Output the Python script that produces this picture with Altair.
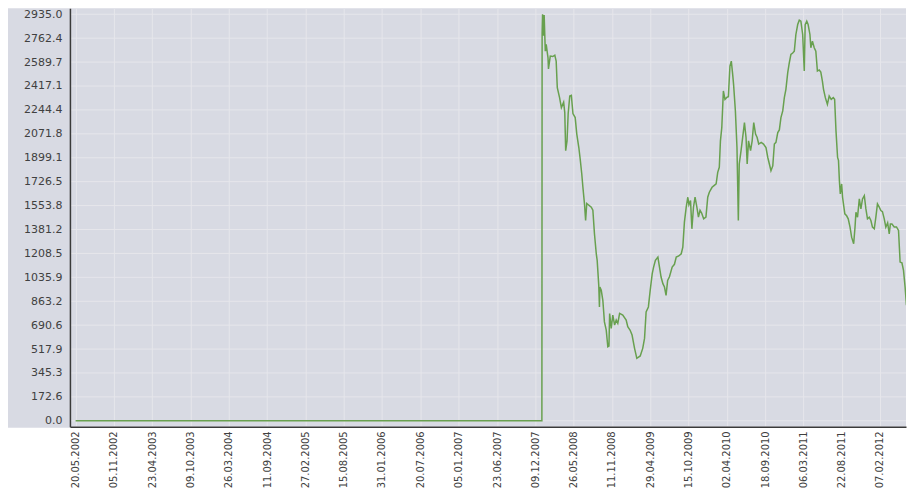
import altair as alt
import pandas as pd

# ---- data ----
dates = [
    "2002-05-20", "2008-01-07", "2008-01-08", "2008-01-10", "2008-01-14", "2008-01-17",
    "2008-01-22", "2008-01-26", "2008-02-03", "2008-02-05", "2008-02-13", "2008-02-24",
    "2008-03-04", "2008-03-10", "2008-03-15", "2008-03-25", "2008-04-02", "2008-04-12",
    "2008-04-17", "2008-04-21", "2008-04-27", "2008-05-02", "2008-05-09", "2008-05-16",
    "2008-05-23", "2008-06-02", "2008-06-09", "2008-06-18", "2008-06-24", "2008-07-01",
    "2008-07-06", "2008-07-13", "2008-07-18", "2008-07-23", "2008-08-12", "2008-08-19",
    "2008-08-26", "2008-09-03", "2008-09-07", "2008-09-14", "2008-09-17", "2008-09-19",
    "2008-09-25", "2008-10-02", "2008-10-09", "2008-10-17", "2008-10-24", "2008-10-29",
    "2008-11-01", "2008-11-08", "2008-11-15", "2008-11-23", "2008-11-30", "2008-12-07",
    "2008-12-15", "2008-12-29", "2009-01-13", "2009-01-20", "2009-01-30", "2009-02-08",
    "2009-02-19", "2009-03-01", "2009-03-16", "2009-03-27", "2009-04-04", "2009-04-11",
    "2009-04-21", "2009-04-29", "2009-05-08", "2009-05-14", "2009-05-22", "2009-06-02",
    "2009-06-09", "2009-06-16", "2009-06-24", "2009-07-01", "2009-07-08", "2009-07-15",
    "2009-07-23", "2009-08-04", "2009-08-14", "2009-08-22", "2009-09-02", "2009-09-13",
    "2009-09-20", "2009-09-27", "2009-10-05", "2009-10-12", "2009-10-17", "2009-10-24",
    "2009-10-30", "2009-11-06", "2009-11-13", "2009-11-21", "2009-11-28", "2009-12-05",
    "2009-12-12", "2009-12-21", "2009-12-31", "2010-01-08", "2010-01-15", "2010-01-27",
    "2010-02-06", "2010-02-14", "2010-02-21", "2010-02-28", "2010-03-05", "2010-03-11",
    "2010-03-18", "2010-03-25", "2010-04-02", "2010-04-09", "2010-04-16", "2010-04-22",
    "2010-04-28", "2010-05-02", "2010-05-10", "2010-05-17", "2010-05-23", "2010-05-27",
    "2010-06-04", "2010-06-11", "2010-06-19", "2010-06-26", "2010-07-01", "2010-07-07",
    "2010-07-16", "2010-07-23", "2010-07-30", "2010-08-07", "2010-08-14", "2010-08-21",
    "2010-09-01", "2010-09-11", "2010-09-22", "2010-09-30", "2010-10-07", "2010-10-14",
    "2010-10-22", "2010-10-29", "2010-11-05", "2010-11-13", "2010-11-20", "2010-11-27",
    "2010-12-05", "2010-12-12", "2010-12-19", "2010-12-27", "2011-01-03", "2011-01-10",
    "2011-01-18", "2011-01-25", "2011-02-01", "2011-02-09", "2011-02-16", "2011-02-23",
    "2011-03-03", "2011-03-10", "2011-03-14", "2011-03-21", "2011-03-27", "2011-04-04",
    "2011-04-08", "2011-04-15", "2011-04-23", "2011-04-30", "2011-05-07", "2011-05-15",
    "2011-05-22", "2011-05-29", "2011-06-03", "2011-06-11", "2011-06-20", "2011-06-28",
    "2011-07-07", "2011-07-16", "2011-07-22", "2011-07-28", "2011-08-04", "2011-08-08",
    "2011-08-12", "2011-08-16", "2011-08-22", "2011-08-26", "2011-09-05", "2011-09-13",
    "2011-09-20", "2011-09-28", "2011-10-05", "2011-10-14", "2011-10-20", "2011-10-24",
    "2011-10-31", "2011-11-08", "2011-11-15", "2011-11-22", "2011-11-30", "2011-12-07",
    "2011-12-14", "2011-12-22", "2011-12-29", "2012-01-05", "2012-01-13", "2012-01-20",
    "2012-01-27", "2012-02-04", "2012-02-11", "2012-02-18", "2012-02-26", "2012-03-04",
    "2012-03-12", "2012-03-19", "2012-03-24", "2012-03-31", "2012-04-10", "2012-04-20",
    "2012-04-29", "2012-05-06", "2012-05-14", "2012-05-21", "2012-05-28", "2012-06-03",
    "2012-06-08", "2012-06-15", "2012-06-23", "2012-06-30", "2012-07-07",
]
values = [
    0, 0, 2800, 2935, 2780, 2930,
    2669, 2717, 2620, 2540, 2633, 2630,
    2640, 2597, 2405, 2333, 2261, 2300,
    2225, 1950, 2021, 2218, 2345, 2350,
    2218, 2189, 2070, 1973, 1890, 1782,
    1686, 1566, 1446, 1569, 1542, 1520,
    1350, 1206, 1158, 978, 822, 966,
    942, 870, 714, 655, 535, 540,
    775, 667, 763, 691, 727, 703,
    775, 763, 727, 679, 655, 619,
    523, 451, 468, 523, 595, 786,
    822, 942, 1063, 1110, 1158, 1182,
    1110, 1038, 990, 966, 906, 1014,
    1040, 1110, 1130, 1182, 1190, 1206,
    1254, 1434, 1542, 1614, 1560, 1590,
    1386, 1542, 1614, 1542, 1470, 1520,
    1500, 1458, 1470, 1614, 1650, 1686,
    1700, 1710, 1794, 1830, 2021, 2117,
    2381, 2321, 2335, 2340, 2561, 2597,
    2501, 2429, 2237, 1973, 1446, 1854,
    1950, 2045, 2153, 2045, 1854, 2021,
    1950, 2021, 2153, 2070, 2045, 1998,
    2010, 1998, 1973, 1901, 1854, 1806,
    1840, 1998, 2010, 2081, 2100, 2189,
    2237, 2333, 2393, 2513, 2585, 2645,
    2655, 2669, 2789, 2861, 2892, 2885,
    2789, 2525, 2860, 2885, 2861, 2789,
    2693, 2741, 2693, 2669, 2525, 2533,
    2517, 2453, 2393, 2333, 2285, 2345,
    2321, 2333, 2321, 2093, 1901, 1880,
    1734, 1638, 1710, 1614, 1494, 1480,
    1458, 1398, 1326, 1278, 1398, 1506,
    1470, 1602, 1530, 1602, 1626, 1530,
    1458, 1470, 1446, 1398, 1386, 1470,
    1566, 1542, 1518, 1510, 1458, 1398,
    1430, 1350, 1420, 1420, 1400, 1400,
    1374, 1146, 1140, 1086, 966, 834,
    942, 950, 1038, 1134, 1150,
]

x_tick_labels = [
    "20.05.2002", "05.11.2002", "23.04.2003", "09.10.2003", "26.03.2004", "11.09.2004",
    "27.02.2005", "15.08.2005", "31.01.2006", "20.07.2006", "05.01.2007", "23.06.2007",
    "09.12.2007", "26.05.2008", "11.11.2008", "29.04.2009", "15.10.2009", "02.04.2010",
    "18.09.2010", "06.03.2011", "22.08.2011", "07.02.2012",
]
y_ticks = [0.0, 172.6, 345.3, 517.9, 690.6, 863.2, 1035.9, 1208.5, 1381.2, 1553.8,
           1726.5, 1899.1, 2071.8, 2244.4, 2417.1, 2589.7, 2762.4, 2935.0]

x_domain = ["25.04.2002", "01.06.2012"]
y_domain = [-43.3, 2978.3]

BG = "#d8dae3"
GRID = "#e6e6eb"
LINE = "#68a04f"
AXIS = "#3a3a3a"
LABEL = "#404040"


def dt(s):
    d, m, y = s.split(".")
    return alt.DateTime(year=int(y), month=int(m), date=int(d), utc=True)


df = pd.DataFrame({"date": dates, "value": values})
grid_df = pd.DataFrame({"tick": y_ticks})
strip_df = pd.DataFrame({"s": [0]})

W, H = 837, 419

x_scale = alt.Scale(type="utc", domain=[dt(s) for s in x_domain], nice=False)
y_scale = alt.Scale(domain=y_domain, nice=False, zero=False)

x_axis = alt.Axis(
    values=[dt(s) for s in x_tick_labels],
    labelExpr="utcFormat(datum.value, '%d.%m.%Y')",
    labelAngle=270, labelFontSize=10, labelColor=LABEL, labelPadding=4,
    labelOverlap=False, labelFlush=False, ticks=False,
    domainColor=AXIS, domainWidth=1.5, grid=True, gridColor=GRID, gridWidth=1,
)
y_axis = alt.Axis(
    values=y_ticks, format=".1f", labelFontSize=11, labelColor=LABEL, labelPadding=8,
    ticks=False, grid=False, domainColor=AXIS, domainWidth=1.5,
    minExtent=62, maxExtent=62, zindex=1,
)

strip = alt.Chart(strip_df).mark_rect(color=BG).encode(
    x=alt.value(-62), x2=alt.value(0), y=alt.value(0), y2=alt.value(H + 1)
)

hgrid = alt.Chart(grid_df).mark_rule(color=GRID, strokeWidth=1).encode(
    y=alt.Y("tick:Q", scale=y_scale, axis=y_axis, title=None)
)

line = alt.Chart(df).mark_line(color=LINE, strokeWidth=1.5, clip=True).encode(
    x=alt.X("date:T", scale=x_scale, axis=x_axis, title=None),
    y=alt.Y("value:Q", scale=y_scale, axis=y_axis, title=None),
)

chart = (
    alt.layer(strip, hgrid, line)
    .properties(width=W, height=H, padding={"left": 0, "top": 0, "right": 0, "bottom": 0},
                background="white")
    .configure_axis(labelFont="DejaVu Sans")
    .configure_view(fill=BG, strokeWidth=0)
)

chart.save("out.html", embed_options={"renderer": "svg", "actions": False})
